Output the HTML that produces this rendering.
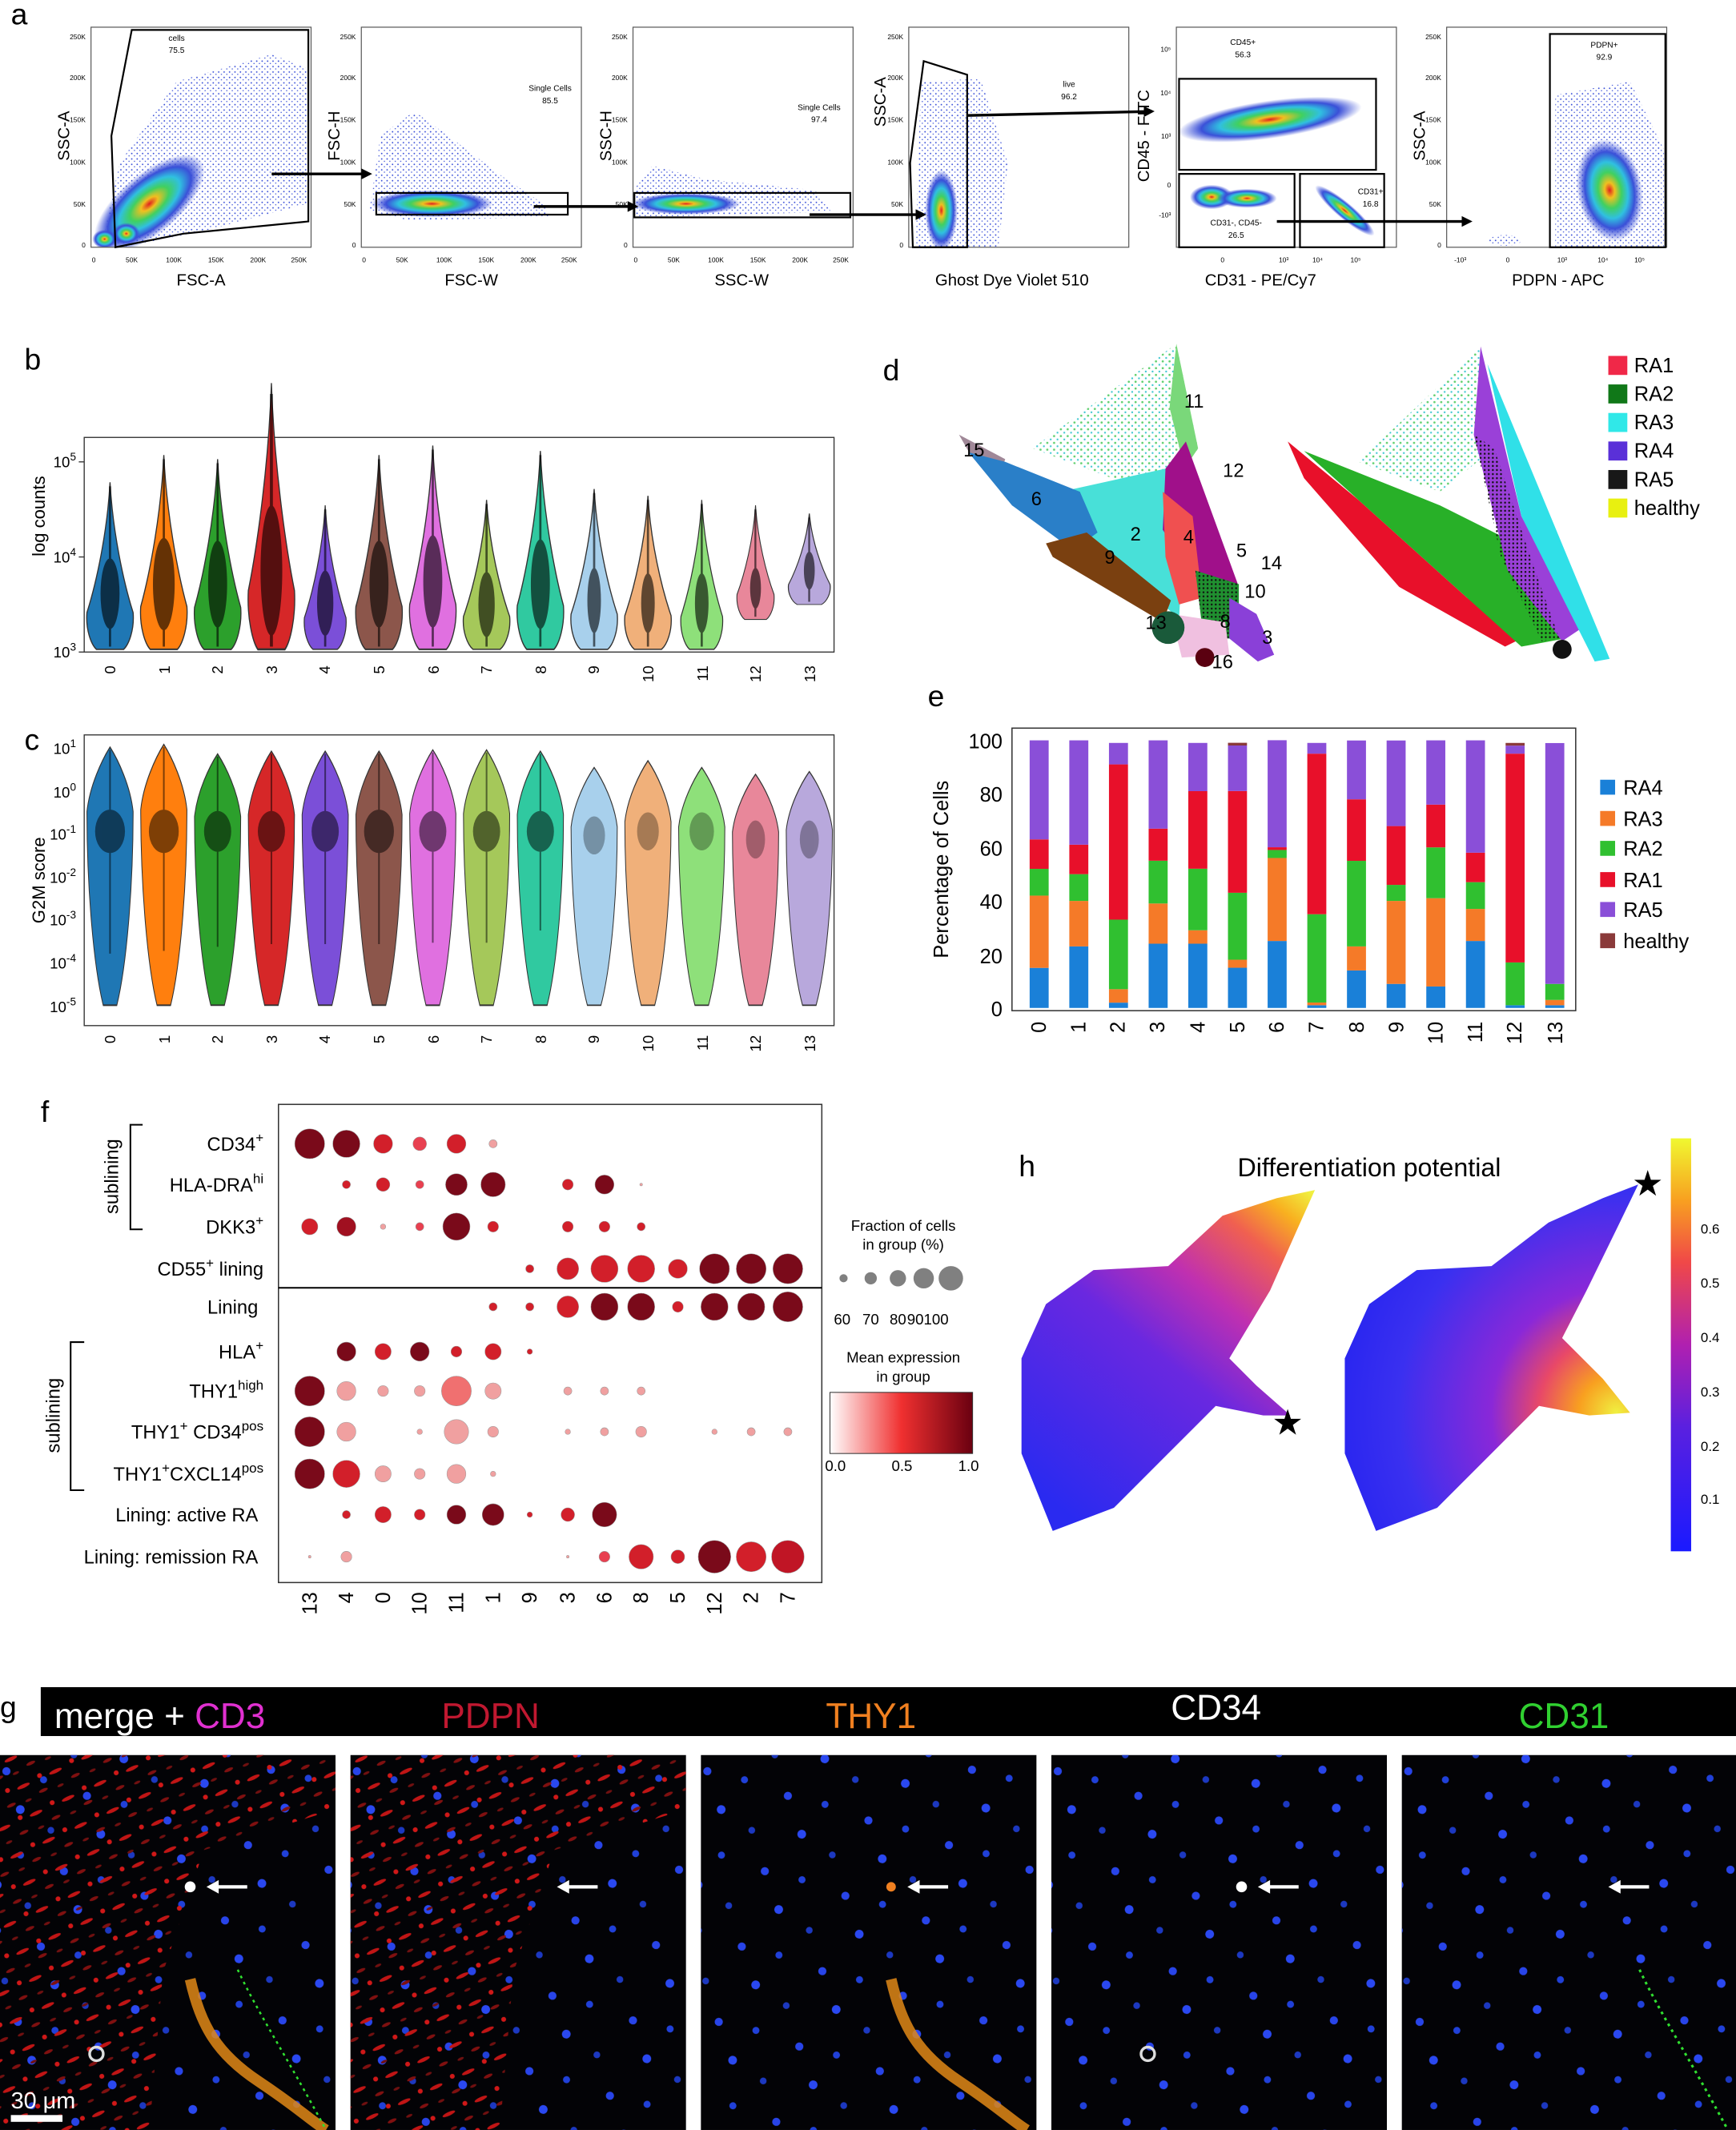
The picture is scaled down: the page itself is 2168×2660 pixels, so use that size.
<!DOCTYPE html>
<html><head><meta charset="utf-8">
<style>
html,body{margin:0;padding:0;background:#fff;}
svg{display:block;}
text{font-family:"Liberation Sans",sans-serif;}
</style></head>
<body>
<svg width="2168" height="2660" viewBox="0 0 1278 1568" xmlns="http://www.w3.org/2000/svg" xmlns:xlink="http://www.w3.org/1999/xlink">
<defs>
<marker id="ah" markerWidth="8" markerHeight="8" refX="6" refY="4" orient="auto" markerUnits="userSpaceOnUse"><path d="M0,0 L8,4 L0,8 z" fill="#000"/></marker>
<linearGradient id="cb" x1="0" y1="1" x2="0" y2="0">
<stop offset="0" stop-color="#1a1aff"/><stop offset="0.3" stop-color="#5a20e0"/><stop offset="0.5" stop-color="#b020b0"/><stop offset="0.7" stop-color="#f04848"/><stop offset="0.85" stop-color="#f8a020"/><stop offset="1" stop-color="#f0f830"/></linearGradient>
<linearGradient id="hg1" gradientUnits="userSpaceOnUse" x1="780" y1="1110" x2="968" y2="880">
<stop offset="0" stop-color="#2a2af0"/><stop offset="0.45" stop-color="#6a28e0"/><stop offset="0.65" stop-color="#c030b0"/><stop offset="0.82" stop-color="#f06050"/><stop offset="0.92" stop-color="#f8b020"/><stop offset="1" stop-color="#f0f040"/></linearGradient>
<radialGradient id="hg2" gradientUnits="userSpaceOnUse" cx="1190" cy="1040" r="230">
<stop offset="0" stop-color="#f0f040"/><stop offset="0.12" stop-color="#f8a020"/><stop offset="0.25" stop-color="#e84868"/><stop offset="0.4" stop-color="#8a28d8"/><stop offset="0.7" stop-color="#3a30f0"/><stop offset="1" stop-color="#2020f0"/></radialGradient>
<linearGradient id="fcb" x1="0" y1="0" x2="1" y2="0"><stop offset="0" stop-color="#fff"/><stop offset="0.5" stop-color="#f03030"/><stop offset="1" stop-color="#6a0010"/></linearGradient>
<radialGradient id="dens">
<stop offset="0" stop-color="#e02020"/><stop offset="0.15" stop-color="#f0c020"/><stop offset="0.35" stop-color="#40d060"/><stop offset="0.55" stop-color="#30c0e0"/><stop offset="0.75" stop-color="#3a50d8"/><stop offset="1" stop-color="#3a50d8" stop-opacity="0"/></radialGradient>
<pattern id="bd" width="4" height="4" patternUnits="userSpaceOnUse"><circle cx="1" cy="1" r="0.55" fill="#3a50d8"/><circle cx="3" cy="2.7" r="0.45" fill="#3a50d8"/></pattern>
<pattern id="kd" width="3" height="3" patternUnits="userSpaceOnUse"><circle cx="1" cy="1" r="0.7" fill="#111"/></pattern>
<pattern id="gd" width="5" height="5" patternUnits="userSpaceOnUse"><circle cx="1" cy="1" r="0.8" fill="#60d070"/><circle cx="3.5" cy="3.5" r="0.7" fill="#40c8d0"/></pattern>
<pattern id="nuc" width="62" height="58" patternUnits="userSpaceOnUse" patternTransform="rotate(17)">
<circle cx="8" cy="10" r="3" fill="#2844e8"/><circle cx="36" cy="8" r="2.6" fill="#2040d8"/><circle cx="26" cy="34" r="3.2" fill="#2a48f0"/><circle cx="52" cy="42" r="2.5" fill="#1c38c0"/></pattern>
<pattern id="rst" width="26" height="22" patternUnits="userSpaceOnUse" patternTransform="rotate(-25)">
<ellipse cx="6" cy="6" rx="5" ry="1.4" fill="#c01515"/><ellipse cx="18" cy="15" rx="3.5" ry="1.2" fill="#801010"/><ellipse cx="20" cy="4" rx="1.8" ry="1.8" fill="#d01818"/><ellipse cx="5" cy="17" rx="2.5" ry="1" fill="#701010"/></pattern>
<path id="vB" d="M0,0 C2,30 10,60 17,78 C18,88 14,97 10,100 L-10,100 C-14,97 -18,88 -17,78 C-10,60 -2,30 0,0 Z"/>
<path id="vC" d="M0,0 C6,5 15,15 17,25 C17,55 12,85 5,100 L-5,100 C-12,85 -17,55 -17,25 C-15,15 -6,5 0,0 Z"/>
<clipPath id="cp"><rect x="67" y="20" width="162" height="162"/><rect x="266" y="20" width="162" height="162"/><rect x="466" y="20" width="162" height="162"/><rect x="669" y="20" width="162" height="162"/><rect x="866" y="20" width="162" height="162"/><rect x="1065" y="20" width="162" height="162"/></clipPath>
<g id="micro">
<rect x="0" y="0" width="247" height="276" fill="#030306"/>
<rect x="0" y="0" width="247" height="276" fill="url(#nuc)"/>
</g>
<g id="arrowW"><line x1="182" y1="97" x2="160" y2="97" stroke="#fff" stroke-width="2.5"/><path d="M152,97 l9,-5 l0,10 z" fill="#fff"/></g>
<path id="redreg" d="M0,0 L247,0 L247,40 L150,70 L120,160 L110,276 L0,276 Z"/>
<path id="vessel" d="M140,165 C148,200 160,220 190,240 S230,270 240,276" stroke="#e08818" stroke-width="8" fill="none" opacity="0.85"/>
</defs>

<!-- panel labels -->
<g font-size="22" fill="#000">
<text x="8" y="18">a</text><text x="18" y="272">b</text><text x="18" y="552">c</text>
<text x="650" y="280">d</text><text x="683" y="520">e</text><text x="30" y="826">f</text>
<text x="0" y="1264">g</text><text x="750" y="866">h</text></g>

<!-- ===== panel a ===== -->
<g clip-path="url(#cp)">
<path d="M75,180 L88,120 L130,60 L200,40 L226,50 L226,150 L150,170 L90,182 Z" fill="url(#bd)"/>
<ellipse cx="110" cy="150" rx="50" ry="22" transform="rotate(-40 110 150)" fill="url(#dens)"/>
<ellipse cx="77" cy="176" rx="9" ry="7" fill="url(#dens)"/>
<ellipse cx="93" cy="172" rx="10" ry="8" fill="url(#dens)"/>
<path d="M272,155 L280,100 L305,82 L330,100 L370,130 L400,150 L405,160 L300,162 Z" fill="url(#bd)"/>
<ellipse cx="318" cy="150" rx="45" ry="10" fill="url(#dens)"/>
<path d="M468,138 L480,122 L520,132 L600,140 L612,156 L468,160 Z" fill="url(#bd)"/>
<ellipse cx="505" cy="150" rx="40" ry="8" fill="url(#dens)"/>
<path d="M678,60 L722,58 L742,120 L735,182 L674,182 Z" fill="url(#bd)"/>
<ellipse cx="693" cy="155" rx="12" ry="30" fill="url(#dens)"/>
<ellipse cx="935" cy="88" rx="68" ry="14" transform="rotate(-8 935 88)" fill="url(#dens)"/>
<ellipse cx="892" cy="145" rx="16" ry="9" fill="url(#dens)"/>
<ellipse cx="918" cy="146" rx="22" ry="7" fill="url(#dens)"/>
<ellipse cx="990" cy="155" rx="28" ry="6" transform="rotate(40 990 155)" fill="url(#dens)"/>
<path d="M1145,70 L1200,60 L1225,110 L1225,182 L1145,182 Z" fill="url(#bd)"/>
<ellipse cx="1185" cy="140" rx="24" ry="38" transform="rotate(-10 1185 140)" fill="url(#dens)"/>
<ellipse cx="1108" cy="177" rx="12" ry="4" fill="url(#bd)"/>
</g>
<g fill="none" stroke="#555" stroke-width="0.7">
<rect x="67" y="20" width="162" height="162"/><rect x="266" y="20" width="162" height="162"/>
<rect x="466" y="20" width="162" height="162"/><rect x="669" y="20" width="162" height="162"/>
<rect x="866" y="20" width="162" height="162"/><rect x="1065" y="20" width="162" height="162"/></g>
<g fill="none" stroke="#000" stroke-width="1.3">
<path d="M97,22 L227,22 L227,163 L135,172 L85,182 L82,100 Z"/>
<rect x="277" y="142" width="141" height="16"/>
<rect x="467" y="142" width="159" height="18"/>
<path d="M680,45 L712,55 L712,182 L672,182 L670,120 Z"/>
<rect x="868" y="58" width="145" height="67"/>
<rect x="868" y="128" width="85" height="54"/>
<rect x="957" y="128" width="62" height="54"/>
<rect x="1141" y="25" width="85" height="157"/>
</g>
<g stroke="#000" stroke-width="2" marker-end="url(#ah)">
<line x1="200" y1="128" x2="272" y2="128"/><line x1="393" y1="152" x2="468" y2="152"/>
<line x1="596" y1="158" x2="680" y2="158"/><line x1="712" y1="85" x2="848" y2="82"/>
<line x1="940" y1="163" x2="1082" y2="163"/></g>
<g font-size="6" fill="#000" text-anchor="middle">
<text x="130" y="30">cells</text><text x="130" y="39">75.5</text>
<text x="405" y="67">Single Cells</text><text x="405" y="76">85.5</text>
<text x="603" y="81">Single Cells</text><text x="603" y="90">97.4</text>
<text x="787" y="64">live</text><text x="787" y="73">96.2</text>
<text x="915" y="33">CD45+</text><text x="915" y="42">56.3</text>
<text x="910" y="166">CD31-, CD45-</text><text x="910" y="175">26.5</text>
<text x="1009" y="143">CD31+</text><text x="1009" y="152">16.8</text>
<text x="1181" y="35">PDPN+</text><text x="1181" y="44">92.9</text>
</g>
<g font-size="5" fill="#000" text-anchor="end">
<text x="63" y="29">250K</text><text x="63" y="59">200K</text><text x="63" y="90">150K</text><text x="63" y="121">100K</text><text x="63" y="152">50K</text><text x="63" y="182">0</text>
<text x="262" y="29">250K</text><text x="262" y="59">200K</text><text x="262" y="90">150K</text><text x="262" y="121">100K</text><text x="262" y="152">50K</text><text x="262" y="182">0</text>
<text x="462" y="29">250K</text><text x="462" y="59">200K</text><text x="462" y="90">150K</text><text x="462" y="121">100K</text><text x="462" y="152">50K</text><text x="462" y="182">0</text>
<text x="665" y="29">250K</text><text x="665" y="59">200K</text><text x="665" y="90">150K</text><text x="665" y="121">100K</text><text x="665" y="152">50K</text><text x="665" y="182">0</text>
<text x="1061" y="29">250K</text><text x="1061" y="59">200K</text><text x="1061" y="90">150K</text><text x="1061" y="121">100K</text><text x="1061" y="152">50K</text><text x="1061" y="182">0</text>
<text x="862" y="38">10⁵</text><text x="862" y="70">10⁴</text><text x="862" y="102">10³</text><text x="862" y="138">0</text><text x="862" y="160">-10³</text>
</g>
<g font-size="5" fill="#000" text-anchor="middle">
<text x="69" y="193">0</text><text x="97" y="193">50K</text><text x="128" y="193">100K</text><text x="159" y="193">150K</text><text x="190" y="193">200K</text><text x="220" y="193">250K</text>
<text x="268" y="193">0</text><text x="296" y="193">50K</text><text x="327" y="193">100K</text><text x="358" y="193">150K</text><text x="389" y="193">200K</text><text x="419" y="193">250K</text>
<text x="468" y="193">0</text><text x="496" y="193">50K</text><text x="527" y="193">100K</text><text x="558" y="193">150K</text><text x="589" y="193">200K</text><text x="619" y="193">250K</text>
<text x="900" y="193">0</text><text x="945" y="193">10³</text><text x="970" y="193">10⁴</text><text x="998" y="193">10⁵</text>
<text x="1075" y="193">-10³</text><text x="1110" y="193">0</text><text x="1150" y="193">10³</text><text x="1180" y="193">10⁴</text><text x="1207" y="193">10⁵</text>
</g>
<g font-size="12" fill="#000" text-anchor="middle">
<text x="148" y="210">FSC-A</text><text x="347" y="210">FSC-W</text><text x="546" y="210">SSC-W</text>
<text x="745" y="210">Ghost Dye Violet 510</text><text x="928" y="210">CD31 - PE/Cy7</text><text x="1147" y="210">PDPN - APC</text>
<text transform="translate(51,100) rotate(-90)">SSC-A</text>
<text transform="translate(250,100) rotate(-90)">FSC-H</text>
<text transform="translate(450,100) rotate(-90)">SSC-H</text>
<text transform="translate(652,75) rotate(-90)">SSC-A</text>
<text transform="translate(846,100) rotate(-90)">CD45 - FITC</text>
<text transform="translate(1049,100) rotate(-90)">SSC-A</text>
</g>

<!-- ===== panel b ===== -->
<rect x="62" y="322" width="552" height="158" fill="none" stroke="#333" stroke-width="0.8"/>
<g stroke="#333" stroke-width="0.8">
<use xlink:href="#vB" href="#vB" fill="#1f77b4" transform="translate(81,355) scale(1,1.23)"/>
<use xlink:href="#vB" href="#vB" fill="#ff7f0e" transform="translate(120.6,335) scale(1,1.43)"/>
<use xlink:href="#vB" href="#vB" fill="#2ca02c" transform="translate(160.2,338) scale(1,1.40)"/>
<use xlink:href="#vB" href="#vB" fill="#d62728" transform="translate(199.8,282) scale(1,1.96)"/>
<use xlink:href="#vB" href="#vB" fill="#7b4fd8" transform="translate(239.4,372) scale(0.9,1.06)"/>
<use xlink:href="#vB" href="#vB" fill="#8c564b" transform="translate(279,335) scale(1,1.43)"/>
<use xlink:href="#vB" href="#vB" fill="#e070e0" transform="translate(318.6,328) scale(1,1.50)"/>
<use xlink:href="#vB" href="#vB" fill="#a5c85a" transform="translate(358.2,368) scale(1,1.10)"/>
<use xlink:href="#vB" href="#vB" fill="#30c9a0" transform="translate(397.8,332) scale(1,1.46)"/>
<use xlink:href="#vB" href="#vB" fill="#a8d0ec" transform="translate(437.4,360) scale(1,1.18)"/>
<use xlink:href="#vB" href="#vB" fill="#f0b07a" transform="translate(477,365) scale(1,1.13)"/>
<use xlink:href="#vB" href="#vB" fill="#8ee07a" transform="translate(516.6,368) scale(0.9,1.10)"/>
<use xlink:href="#vB" href="#vB" fill="#e8879a" transform="translate(556.2,372) scale(0.8,0.84)"/>
<use xlink:href="#vB" href="#vB" fill="#b8a8dc" transform="translate(595.8,378) scale(0.9,0.67)"/>
</g>
<g fill="#000" opacity="0.6">
<ellipse cx="81" cy="437" rx="7" ry="26"/><rect x="80.2" y="358" width="1.6" height="118"/>
<ellipse cx="120.6" cy="430" rx="8" ry="34"/><rect x="119.8" y="338" width="1.6" height="138"/>
<ellipse cx="160.2" cy="430" rx="7" ry="32"/><rect x="159.4" y="341" width="1.6" height="135"/>
<ellipse cx="199.8" cy="420" rx="8" ry="48"/><rect x="198.7" y="290" width="2.2" height="186"/>
<ellipse cx="239.4" cy="444" rx="6" ry="24"/><rect x="238.6" y="375" width="1.6" height="101"/>
<ellipse cx="279" cy="430" rx="7" ry="32"/><rect x="278.2" y="338" width="1.6" height="138"/>
<ellipse cx="318.6" cy="428" rx="7" ry="34"/><rect x="317.8" y="331" width="1.6" height="145"/>
<ellipse cx="358.2" cy="445" rx="6" ry="24"/><rect x="357.4" y="371" width="1.6" height="105"/>
<ellipse cx="397.8" cy="430" rx="7" ry="33"/><rect x="397" y="335" width="1.6" height="141"/>
<ellipse cx="437.4" cy="442" rx="5" ry="24"/><rect x="436.6" y="363" width="1.6" height="113"/>
<ellipse cx="477" cy="444" rx="5" ry="22"/><rect x="476.2" y="368" width="1.6" height="108"/>
<ellipse cx="516.6" cy="444" rx="5" ry="22"/><rect x="515.8" y="371" width="1.6" height="105"/>
<ellipse cx="556.2" cy="433" rx="4" ry="15"/><rect x="555.4" y="375" width="1.4" height="79"/>
<ellipse cx="595.8" cy="420" rx="4" ry="14"/><rect x="595" y="381" width="1.4" height="62"/>
</g>
<g font-size="11" fill="#000" text-anchor="end">
<text x="56" y="344">10<tspan font-size="8" dy="-5">5</tspan></text>
<text x="56" y="414">10<tspan font-size="8" dy="-5">4</tspan></text>
<text x="56" y="484">10<tspan font-size="8" dy="-5">3</tspan></text></g>
<g stroke="#333" stroke-width="0.8"><line x1="58" y1="340" x2="62" y2="340"/><line x1="58" y1="410" x2="62" y2="410"/><line x1="58" y1="480" x2="62" y2="480"/></g>
<text transform="translate(33,380) rotate(-90)" font-size="13" text-anchor="middle">log counts</text>
<g font-size="11" fill="#000" text-anchor="end">
<text transform="translate(85,490) rotate(-90)">0</text><text transform="translate(125,490) rotate(-90)">1</text><text transform="translate(164,490) rotate(-90)">2</text><text transform="translate(204,490) rotate(-90)">3</text><text transform="translate(243,490) rotate(-90)">4</text><text transform="translate(283,490) rotate(-90)">5</text><text transform="translate(323,490) rotate(-90)">6</text><text transform="translate(362,490) rotate(-90)">7</text><text transform="translate(402,490) rotate(-90)">8</text><text transform="translate(441,490) rotate(-90)">9</text><text transform="translate(481,490) rotate(-90)">10</text><text transform="translate(521,490) rotate(-90)">11</text><text transform="translate(560,490) rotate(-90)">12</text><text transform="translate(600,490) rotate(-90)">13</text></g>

<!-- ===== panel c ===== -->
<rect x="62" y="541" width="552" height="214" fill="none" stroke="#333" stroke-width="0.8"/>
<g stroke="#333" stroke-width="0.6">
<use xlink:href="#vC" href="#vC" fill="#1f77b4" transform="translate(81,550) scale(1,1.90)"/>
<use xlink:href="#vC" href="#vC" fill="#ff7f0e" transform="translate(120.6,548) scale(1,1.92)"/>
<use xlink:href="#vC" href="#vC" fill="#2ca02c" transform="translate(160.2,555) scale(1,1.85)"/>
<use xlink:href="#vC" href="#vC" fill="#d62728" transform="translate(199.8,553) scale(1,1.87)"/>
<use xlink:href="#vC" href="#vC" fill="#7b4fd8" transform="translate(239.4,553) scale(1,1.87)"/>
<use xlink:href="#vC" href="#vC" fill="#8c564b" transform="translate(279,553) scale(1,1.87)"/>
<use xlink:href="#vC" href="#vC" fill="#e070e0" transform="translate(318.6,552) scale(1,1.88)"/>
<use xlink:href="#vC" href="#vC" fill="#a5c85a" transform="translate(358.2,552) scale(1,1.88)"/>
<use xlink:href="#vC" href="#vC" fill="#30c9a0" transform="translate(397.8,553) scale(1,1.87)"/>
<use xlink:href="#vC" href="#vC" fill="#a8d0ec" transform="translate(437.4,565) scale(1,1.75)"/>
<use xlink:href="#vC" href="#vC" fill="#f0b07a" transform="translate(477,560) scale(1,1.80)"/>
<use xlink:href="#vC" href="#vC" fill="#8ee07a" transform="translate(516.6,565) scale(1,1.75)"/>
<use xlink:href="#vC" href="#vC" fill="#e8879a" transform="translate(556.2,570) scale(1,1.70)"/>
<use xlink:href="#vC" href="#vC" fill="#b8a8dc" transform="translate(595.8,568) scale(1,1.72)"/>
</g>
<g fill="#000" opacity="0.5">
<ellipse cx="81" cy="612" rx="11" ry="16"/><rect x="80.4" y="552" width="1.2" height="150"/>
<ellipse cx="120.6" cy="612" rx="11" ry="16"/><rect x="120" y="550" width="1.2" height="150"/>
<ellipse cx="160.2" cy="612" rx="10" ry="15"/><rect x="159.6" y="557" width="1.2" height="140"/>
<ellipse cx="199.8" cy="612" rx="10" ry="15"/><rect x="199.2" y="555" width="1.2" height="140"/>
<ellipse cx="239.4" cy="612" rx="10" ry="15"/><rect x="238.8" y="555" width="1.2" height="140"/>
<ellipse cx="279" cy="612" rx="11" ry="16"/><rect x="278.4" y="555" width="1.2" height="140"/>
<ellipse cx="318.6" cy="612" rx="10" ry="15"/><rect x="318" y="554" width="1.2" height="140"/>
<ellipse cx="358.2" cy="612" rx="10" ry="15"/><rect x="357.6" y="554" width="1.2" height="140"/>
<ellipse cx="397.8" cy="612" rx="10" ry="15"/><rect x="397.2" y="555" width="1.2" height="130"/>
</g>
<g fill="#000" opacity="0.3">
<ellipse cx="437.4" cy="615" rx="8" ry="14"/><ellipse cx="477" cy="612" rx="8" ry="14"/><ellipse cx="516.6" cy="612" rx="9" ry="14"/><ellipse cx="556.2" cy="618" rx="7" ry="14"/><ellipse cx="595.8" cy="618" rx="7" ry="14"/>
</g>
<g font-size="11" fill="#000" text-anchor="end">
<text x="56" y="555">10<tspan font-size="8" dy="-5">1</tspan></text>
<text x="56" y="587">10<tspan font-size="8" dy="-5">0</tspan></text>
<text x="56" y="618">10<tspan font-size="8" dy="-5">-1</tspan></text>
<text x="56" y="650">10<tspan font-size="8" dy="-5">-2</tspan></text>
<text x="56" y="681">10<tspan font-size="8" dy="-5">-3</tspan></text>
<text x="56" y="713">10<tspan font-size="8" dy="-5">-4</tspan></text>
<text x="56" y="745">10<tspan font-size="8" dy="-5">-5</tspan></text></g>
<text transform="translate(33,648) rotate(-90)" font-size="13" text-anchor="middle">G2M score</text>
<g font-size="11" fill="#000" text-anchor="end">
<text transform="translate(85,762) rotate(-90)">0</text><text transform="translate(125,762) rotate(-90)">1</text><text transform="translate(164,762) rotate(-90)">2</text><text transform="translate(204,762) rotate(-90)">3</text><text transform="translate(243,762) rotate(-90)">4</text><text transform="translate(283,762) rotate(-90)">5</text><text transform="translate(323,762) rotate(-90)">6</text><text transform="translate(362,762) rotate(-90)">7</text><text transform="translate(402,762) rotate(-90)">8</text><text transform="translate(441,762) rotate(-90)">9</text><text transform="translate(481,762) rotate(-90)">10</text><text transform="translate(521,762) rotate(-90)">11</text><text transform="translate(560,762) rotate(-90)">12</text><text transform="translate(600,762) rotate(-90)">13</text></g>

<!-- ===== panel d ===== -->
<g>
<polygon points="760,330 866,253 882,330 870,350 840,360 800,345" fill="url(#gd)"/>
<polygon points="866,253 882,330 872,345 861,300" fill="#7ad87a"/>
<polygon points="790,360 858,345 870,420 868,455 800,400" fill="#48e0d8"/>
<polygon points="858,345 873,325 912,432 882,430 856,390" fill="#a0108a"/>
<polygon points="856,362 878,380 885,440 868,445 858,410" fill="#f05050"/>
<polygon points="706,320 740,338 736,350 714,334" fill="#a08898"/>
<polygon points="713,333 740,340 795,362 808,392 790,405 745,372" fill="#2a7fc8"/>
<polygon points="770,400 800,392 862,442 856,458 775,410" fill="#7a4010"/>
<polygon points="880,420 912,430 912,470 886,470" fill="#209030"/>
<polygon points="880,420 912,430 912,470 886,470" fill="url(#kd)"/>
<polygon points="862,452 902,458 905,482 870,484" fill="#f0c0e0"/>
<polygon points="905,440 925,452 938,482 926,487 905,470" fill="#8a40d8"/>
<circle cx="860" cy="462" r="12" fill="#1a5a3a"/><circle cx="887" cy="484" r="7" fill="#5a0010"/>
<polygon points="948,325 1000,368 1080,440 1120,470 1108,476 1030,432 960,352" fill="#e8102a"/>
<polygon points="960,332 1060,372 1120,402 1152,470 1120,476 1080,440 1000,368" fill="#28b028"/>
<polygon points="1000,340 1090,255 1100,330 1060,362" fill="url(#gd)"/>
<polygon points="1090,255 1120,380 1165,462 1150,472 1110,420 1085,320" fill="#9a40d8"/>
<polygon points="1095,268 1185,485 1174,487 1120,380" fill="#30e0e8"/>
<polygon points="1085,320 1100,330 1130,420 1148,470 1135,472 1105,410" fill="url(#kd)"/>
<circle cx="1150" cy="478" r="7" fill="#111"/>
</g>
<g font-size="14" fill="#000" text-anchor="middle">
<text x="879" y="300">11</text><text x="717" y="336">15</text><text x="908" y="351">12</text>
<text x="763" y="372">6</text><text x="836" y="398">2</text><text x="875" y="400">4</text>
<text x="914" y="410">5</text><text x="936" y="419">14</text><text x="817" y="415">9</text>
<text x="924" y="440">10</text><text x="902" y="462">8</text><text x="851" y="463">13</text>
<text x="933" y="474">3</text><text x="900" y="492">16</text></g>
<g font-size="15" fill="#000">
<rect x="1184" y="262" width="14" height="14" fill="#f02848"/><text x="1203" y="274">RA1</text>
<rect x="1184" y="283" width="14" height="14" fill="#107818"/><text x="1203" y="295">RA2</text>
<rect x="1184" y="304" width="14" height="14" fill="#30e8e8"/><text x="1203" y="316">RA3</text>
<rect x="1184" y="325" width="14" height="14" fill="#5a30d8"/><text x="1203" y="337">RA4</text>
<rect x="1184" y="346" width="14" height="14" fill="#181818"/><text x="1203" y="358">RA5</text>
<rect x="1184" y="367" width="14" height="14" fill="#e8f010"/><text x="1203" y="379">healthy</text></g>

<!-- ===== panel e ===== -->
<g>
<rect x="758" y="712.5" width="14" height="29.5" fill="#1a80d8"/><rect x="758" y="659.3" width="14" height="53.2" fill="#f57a28"/><rect x="758" y="639.6" width="14" height="19.7" fill="#30c030"/><rect x="758" y="617.9" width="14" height="21.7" fill="#e8102a"/><rect x="758" y="545" width="14" height="72.9" fill="#8a4fd8"/>
<rect x="787.2" y="696.7" width="14" height="45.3" fill="#1a80d8"/><rect x="787.2" y="663.2" width="14" height="33.5" fill="#f57a28"/><rect x="787.2" y="643.5" width="14" height="19.7" fill="#30c030"/><rect x="787.2" y="621.8" width="14" height="21.7" fill="#e8102a"/><rect x="787.2" y="545" width="14" height="76.8" fill="#8a4fd8"/>
<rect x="816.4" y="738.1" width="14" height="3.9" fill="#1a80d8"/><rect x="816.4" y="728.2" width="14" height="9.9" fill="#f57a28"/><rect x="816.4" y="677" width="14" height="51.2" fill="#30c030"/><rect x="816.4" y="562.7" width="14" height="114.3" fill="#e8102a"/><rect x="816.4" y="546.9" width="14" height="15.8" fill="#8a4fd8"/>
<rect x="845.6" y="694.7" width="14" height="47.3" fill="#1a80d8"/><rect x="845.6" y="665.1" width="14" height="29.6" fill="#f57a28"/><rect x="845.6" y="633.6" width="14" height="31.5" fill="#30c030"/><rect x="845.6" y="610" width="14" height="23.6" fill="#e8102a"/><rect x="845.6" y="545" width="14" height="65" fill="#8a4fd8"/>
<rect x="874.8" y="694.7" width="14" height="47.3" fill="#1a80d8"/><rect x="874.8" y="684.8" width="14" height="9.9" fill="#f57a28"/><rect x="874.8" y="639.5" width="14" height="45.3" fill="#30c030"/><rect x="874.8" y="582.4" width="14" height="57.1" fill="#e8102a"/><rect x="874.8" y="546.9" width="14" height="35.5" fill="#8a4fd8"/>
<rect x="904" y="712.4" width="14" height="29.6" fill="#1a80d8"/><rect x="904" y="706.5" width="14" height="5.9" fill="#f57a28"/><rect x="904" y="657.2" width="14" height="49.3" fill="#30c030"/><rect x="904" y="582.3" width="14" height="74.9" fill="#e8102a"/><rect x="904" y="548.8" width="14" height="33.5" fill="#8a4fd8"/><rect x="904" y="546.8" width="14" height="2" fill="#8a3a3a"/>
<rect x="933.2" y="692.7" width="14" height="49.3" fill="#1a80d8"/><rect x="933.2" y="631.6" width="14" height="61.1" fill="#f57a28"/><rect x="933.2" y="625.7" width="14" height="5.9" fill="#30c030"/><rect x="933.2" y="623.7" width="14" height="2" fill="#e8102a"/><rect x="933.2" y="544.9" width="14" height="78.8" fill="#8a4fd8"/>
<rect x="962.4" y="740" width="14" height="2" fill="#1a80d8"/><rect x="962.4" y="738" width="14" height="2" fill="#f57a28"/><rect x="962.4" y="673" width="14" height="65" fill="#30c030"/><rect x="962.4" y="554.8" width="14" height="118.2" fill="#e8102a"/><rect x="962.4" y="546.9" width="14" height="7.9" fill="#8a4fd8"/>
<rect x="991.6" y="714.4" width="14" height="27.6" fill="#1a80d8"/><rect x="991.6" y="696.7" width="14" height="17.7" fill="#f57a28"/><rect x="991.6" y="633.7" width="14" height="63" fill="#30c030"/><rect x="991.6" y="588.4" width="14" height="45.3" fill="#e8102a"/><rect x="991.6" y="545.1" width="14" height="43.3" fill="#8a4fd8"/>
<rect x="1020.8" y="724.3" width="14" height="17.7" fill="#1a80d8"/><rect x="1020.8" y="663.2" width="14" height="61.1" fill="#f57a28"/><rect x="1020.8" y="651.4" width="14" height="11.8" fill="#30c030"/><rect x="1020.8" y="608.1" width="14" height="43.3" fill="#e8102a"/><rect x="1020.8" y="545.1" width="14" height="63" fill="#8a4fd8"/>
<rect x="1050" y="726.2" width="14" height="15.8" fill="#1a80d8"/><rect x="1050" y="661.2" width="14" height="65" fill="#f57a28"/><rect x="1050" y="623.8" width="14" height="37.4" fill="#30c030"/><rect x="1050" y="592.3" width="14" height="31.5" fill="#e8102a"/><rect x="1050" y="545" width="14" height="47.3" fill="#8a4fd8"/>
<rect x="1079.2" y="692.7" width="14" height="49.3" fill="#1a80d8"/><rect x="1079.2" y="669.1" width="14" height="23.6" fill="#f57a28"/><rect x="1079.2" y="649.4" width="14" height="19.7" fill="#30c030"/><rect x="1079.2" y="627.7" width="14" height="21.7" fill="#e8102a"/><rect x="1079.2" y="545" width="14" height="82.7" fill="#8a4fd8"/>
<rect x="1108.4" y="740" width="14" height="2" fill="#1a80d8"/><rect x="1108.4" y="708.5" width="14" height="31.5" fill="#30c030"/><rect x="1108.4" y="554.8" width="14" height="153.7" fill="#e8102a"/><rect x="1108.4" y="548.9" width="14" height="5.9" fill="#8a4fd8"/><rect x="1108.4" y="546.9" width="14" height="2" fill="#8a3a3a"/>
<rect x="1137.6" y="740" width="14" height="2" fill="#1a80d8"/><rect x="1137.6" y="736.1" width="14" height="3.9" fill="#f57a28"/><rect x="1137.6" y="724.3" width="14" height="11.8" fill="#30c030"/><rect x="1137.6" y="547" width="14" height="177.3" fill="#8a4fd8"/>
</g>
<rect x="745" y="536" width="415" height="208" fill="none" stroke="#333" stroke-width="0.9"/>
<g font-size="15" fill="#000" text-anchor="end">
<text x="738" y="748">0</text><text x="738" y="709">20</text><text x="738" y="669">40</text><text x="738" y="630">60</text><text x="738" y="590">80</text><text x="738" y="551">100</text></g>
<text transform="translate(698,640) rotate(-90)" font-size="15" text-anchor="middle">Percentage of Cells</text>
<g font-size="15" fill="#000" text-anchor="end">
<text transform="translate(770,752) rotate(-90)">0</text><text transform="translate(799,752) rotate(-90)">1</text><text transform="translate(828,752) rotate(-90)">2</text><text transform="translate(857,752) rotate(-90)">3</text><text transform="translate(887,752) rotate(-90)">4</text><text transform="translate(916,752) rotate(-90)">5</text><text transform="translate(945,752) rotate(-90)">6</text><text transform="translate(974,752) rotate(-90)">7</text><text transform="translate(1004,752) rotate(-90)">8</text><text transform="translate(1033,752) rotate(-90)">9</text><text transform="translate(1062,752) rotate(-90)">10</text><text transform="translate(1091,752) rotate(-90)">11</text><text transform="translate(1120,752) rotate(-90)">12</text><text transform="translate(1150,752) rotate(-90)">13</text></g>
<g font-size="15" fill="#000">
<rect x="1178" y="574" width="11" height="11" fill="#1a80d8"/><text x="1195" y="585">RA4</text>
<rect x="1178" y="597" width="11" height="11" fill="#f57a28"/><text x="1195" y="608">RA3</text>
<rect x="1178" y="619" width="11" height="11" fill="#30c030"/><text x="1195" y="630">RA2</text>
<rect x="1178" y="642" width="11" height="11" fill="#e8102a"/><text x="1195" y="653">RA1</text>
<rect x="1178" y="664" width="11" height="11" fill="#8a4fd8"/><text x="1195" y="675">RA5</text>
<rect x="1178" y="687" width="11" height="11" fill="#8a3a3a"/><text x="1195" y="698">healthy</text></g>

<!-- ===== panel f ===== -->
<rect x="205" y="813" width="400" height="352" fill="none" stroke="#333" stroke-width="0.9"/>
<line x1="205" y1="948" x2="605" y2="948" stroke="#000" stroke-width="1.2"/>
<g stroke="#999" stroke-width="0.3">
<circle cx="228" cy="842" r="11" fill="#7a0a1a"/><circle cx="255" cy="842" r="10" fill="#7a0a1a"/><circle cx="282" cy="842" r="7" fill="#d21f2a"/><circle cx="309" cy="842" r="5" fill="#e84050"/><circle cx="336" cy="842" r="7" fill="#d21f2a"/><circle cx="363" cy="842" r="3" fill="#f0a0a0"/>
<circle cx="255" cy="872" r="3" fill="#d21f2a"/><circle cx="282" cy="872" r="5" fill="#d21f2a"/><circle cx="309" cy="872" r="3" fill="#e84050"/><circle cx="336" cy="872" r="8" fill="#7a0a1a"/><circle cx="363" cy="872" r="9" fill="#7a0a1a"/><circle cx="418" cy="872" r="4" fill="#d21f2a"/><circle cx="445" cy="872" r="7" fill="#7a0a1a"/><circle cx="472" cy="872" r="1" fill="#f0a0a0"/>
<circle cx="228" cy="903" r="6" fill="#d21f2a"/><circle cx="255" cy="903" r="7" fill="#a01020"/><circle cx="282" cy="903" r="2" fill="#f0a0a0"/><circle cx="309" cy="903" r="3" fill="#e84050"/><circle cx="336" cy="903" r="10" fill="#7a0a1a"/><circle cx="363" cy="903" r="4" fill="#d21f2a"/><circle cx="418" cy="903" r="4" fill="#d21f2a"/><circle cx="445" cy="903" r="4" fill="#d21f2a"/><circle cx="472" cy="903" r="3" fill="#d21f2a"/>
<circle cx="390" cy="934" r="3" fill="#d21f2a"/><circle cx="418" cy="934" r="8" fill="#d21f2a"/><circle cx="445" cy="934" r="10" fill="#d21f2a"/><circle cx="472" cy="934" r="10" fill="#d21f2a"/><circle cx="499" cy="934" r="7" fill="#d21f2a"/><circle cx="526" cy="934" r="11" fill="#7a0a1a"/><circle cx="553" cy="934" r="11" fill="#7a0a1a"/><circle cx="580" cy="934" r="11" fill="#7a0a1a"/>
<circle cx="363" cy="962" r="3" fill="#d21f2a"/><circle cx="390" cy="962" r="3" fill="#d21f2a"/><circle cx="418" cy="962" r="8" fill="#d21f2a"/><circle cx="445" cy="962" r="10" fill="#7a0a1a"/><circle cx="472" cy="962" r="10" fill="#7a0a1a"/><circle cx="499" cy="962" r="4" fill="#d21f2a"/><circle cx="526" cy="962" r="10" fill="#7a0a1a"/><circle cx="553" cy="962" r="10" fill="#7a0a1a"/><circle cx="580" cy="962" r="11" fill="#7a0a1a"/>
<circle cx="255" cy="995" r="7" fill="#7a0a1a"/><circle cx="282" cy="995" r="6" fill="#d21f2a"/><circle cx="309" cy="995" r="7" fill="#7a0a1a"/><circle cx="336" cy="995" r="4" fill="#d21f2a"/><circle cx="363" cy="995" r="6" fill="#d21f2a"/><circle cx="390" cy="995" r="2" fill="#d21f2a"/>
<circle cx="228" cy="1024" r="11" fill="#7a0a1a"/><circle cx="255" cy="1024" r="7" fill="#f0a0a0"/><circle cx="282" cy="1024" r="4" fill="#f0a0a0"/><circle cx="309" cy="1024" r="4" fill="#f0a0a0"/><circle cx="336" cy="1024" r="11" fill="#f07070"/><circle cx="363" cy="1024" r="6" fill="#f0a0a0"/><circle cx="418" cy="1024" r="3" fill="#f0a0a0"/><circle cx="445" cy="1024" r="3" fill="#f0a0a0"/><circle cx="472" cy="1024" r="3" fill="#f0a0a0"/>
<circle cx="228" cy="1054" r="11" fill="#7a0a1a"/><circle cx="255" cy="1054" r="7" fill="#f0a0a0"/><circle cx="309" cy="1054" r="2" fill="#f0a0a0"/><circle cx="336" cy="1054" r="9" fill="#f0a0a0"/><circle cx="363" cy="1054" r="4" fill="#f0a0a0"/><circle cx="418" cy="1054" r="2" fill="#f0a0a0"/><circle cx="445" cy="1054" r="3" fill="#f0a0a0"/><circle cx="472" cy="1054" r="4" fill="#f0a0a0"/><circle cx="526" cy="1054" r="2" fill="#f0a0a0"/><circle cx="553" cy="1054" r="3" fill="#f0a0a0"/><circle cx="580" cy="1054" r="3" fill="#f0a0a0"/>
<circle cx="228" cy="1085" r="11" fill="#7a0a1a"/><circle cx="255" cy="1085" r="10" fill="#d21f2a"/><circle cx="282" cy="1085" r="6" fill="#f0a0a0"/><circle cx="309" cy="1085" r="4" fill="#f0a0a0"/><circle cx="336" cy="1085" r="7" fill="#f0a0a0"/><circle cx="363" cy="1085" r="2" fill="#f0a0a0"/>
<circle cx="255" cy="1115" r="3" fill="#d21f2a"/><circle cx="282" cy="1115" r="6" fill="#d21f2a"/><circle cx="309" cy="1115" r="4" fill="#d21f2a"/><circle cx="336" cy="1115" r="7" fill="#7a0a1a"/><circle cx="363" cy="1115" r="8" fill="#7a0a1a"/><circle cx="390" cy="1115" r="2" fill="#d21f2a"/><circle cx="418" cy="1115" r="5" fill="#d21f2a"/><circle cx="445" cy="1115" r="9" fill="#7a0a1a"/>
<circle cx="228" cy="1146" r="1" fill="#f0a0a0"/><circle cx="255" cy="1146" r="4" fill="#f0a0a0"/><circle cx="418" cy="1146" r="1" fill="#f0a0a0"/><circle cx="445" cy="1146" r="4" fill="#e84050"/><circle cx="472" cy="1146" r="9" fill="#d21f2a"/><circle cx="499" cy="1146" r="5" fill="#d21f2a"/><circle cx="526" cy="1146" r="12" fill="#7a0a1a"/><circle cx="553" cy="1146" r="11" fill="#d21f2a"/><circle cx="580" cy="1146" r="12" fill="#c01525"/>
</g>
<g font-size="14" fill="#000" text-anchor="end">
<text x="194" y="847">CD34<tspan font-size="10" dy="-6">+</tspan></text>
<text x="194" y="877">HLA-DRA<tspan font-size="10" dy="-6">hi</tspan></text>
<text x="194" y="908">DKK3<tspan font-size="10" dy="-6">+</tspan></text>
<text x="194" y="939">CD55<tspan font-size="10" dy="-6">+</tspan><tspan dy="6"> lining</tspan></text>
<text x="190" y="967">Lining</text>
<text x="194" y="1000">HLA<tspan font-size="10" dy="-6">+</tspan></text>
<text x="194" y="1029">THY1<tspan font-size="10" dy="-6">high</tspan></text>
<text x="194" y="1059">THY1<tspan font-size="10" dy="-6">+</tspan><tspan dy="6"> CD34</tspan><tspan font-size="10" dy="-6">pos</tspan></text>
<text x="194" y="1090">THY1<tspan font-size="10" dy="-6">+</tspan><tspan dy="6">CXCL14</tspan><tspan font-size="10" dy="-6">pos</tspan></text>
<text x="190" y="1120">Lining: active RA</text>
<text x="190" y="1151">Lining: remission RA</text></g>
<g fill="none" stroke="#000" stroke-width="1.2">
<path d="M105,828 L96,828 L96,905 L105,905"/><path d="M62,988 L52,988 L52,1097 L62,1097"/></g>
<g font-size="14" text-anchor="middle">
<text transform="translate(87,866) rotate(-90)">sublining</text>
<text transform="translate(44,1042) rotate(-90)">sublining</text></g>
<g font-size="15" fill="#000" text-anchor="end">
<text transform="translate(233,1172) rotate(-90)">13</text><text transform="translate(260,1172) rotate(-90)">4</text><text transform="translate(287,1172) rotate(-90)">0</text><text transform="translate(314,1172) rotate(-90)">10</text><text transform="translate(341,1172) rotate(-90)">11</text><text transform="translate(368,1172) rotate(-90)">1</text><text transform="translate(395,1172) rotate(-90)">9</text><text transform="translate(423,1172) rotate(-90)">3</text><text transform="translate(450,1172) rotate(-90)">6</text><text transform="translate(477,1172) rotate(-90)">8</text><text transform="translate(504,1172) rotate(-90)">5</text><text transform="translate(531,1172) rotate(-90)">12</text><text transform="translate(558,1172) rotate(-90)">2</text><text transform="translate(585,1172) rotate(-90)">7</text></g>
<g font-size="11" fill="#000" text-anchor="middle">
<text x="665" y="906">Fraction of cells</text><text x="665" y="920">in group (%)</text>
<text x="620" y="975">60</text><text x="641" y="975">70</text><text x="661" y="975">80</text><text x="683" y="975">90100</text>
<text x="665" y="1003">Mean expression</text><text x="665" y="1017">in group</text>
<text x="615" y="1083">0.0</text><text x="664" y="1083">0.5</text><text x="713" y="1083">1.0</text></g>
<g fill="#808080"><circle cx="621" cy="941" r="3"/><circle cx="641" cy="941" r="4.5"/><circle cx="661" cy="941" r="6"/><circle cx="680" cy="941" r="7.5"/><circle cx="700" cy="941" r="9"/></g>
<rect x="611" y="1025" width="105" height="45" fill="url(#fcb)" stroke="#333" stroke-width="0.6"/>

<!-- ===== panel h ===== -->
<text x="1008" y="866" font-size="19" text-anchor="middle">Differentiation potential</text>
<path d="M775,1127 L752,1070 L752,1000 L770,960 L805,935 L860,932 L900,895 L940,882 L968,876 L955,905 L935,950 L905,1000 L925,1020 L950,1042 L930,1042 L895,1035 L860,1070 L820,1110 Z" fill="url(#hg1)"/>
<path d="M1013,1127 L990,1070 L990,1000 L1008,960 L1043,935 L1098,932 L1140,900 L1180,882 L1206,872 L1190,905 L1168,950 L1150,985 L1180,1015 L1200,1040 L1170,1042 L1133,1035 L1098,1070 L1058,1110 Z" fill="url(#hg2)"/>
<text x="948" y="1056" font-size="26" text-anchor="middle">★</text>
<text x="1213" y="880" font-size="26" text-anchor="middle">★</text>
<rect x="1230" y="838" width="15" height="304" fill="url(#cb)"/>
<g font-size="10" fill="#000">
<text x="1252" y="908">0.6</text><text x="1252" y="948">0.5</text><text x="1252" y="988">0.4</text><text x="1252" y="1028">0.3</text><text x="1252" y="1068">0.2</text><text x="1252" y="1107">0.1</text></g>

<!-- ===== panel g ===== -->
<rect x="30" y="1242" width="1248" height="36" fill="#000"/>
<g font-size="26">
<text x="40" y="1272" fill="#fff">merge + <tspan fill="#e030d0">CD3</tspan></text>
<text x="325" y="1272" fill="#c01830">PDPN</text>
<text x="608" y="1272" fill="#f08020">THY1</text>
<text x="862" y="1266" fill="#fff">CD34</text>
<text x="1118" y="1272" fill="#30d030">CD31</text></g>

<g transform="translate(0,1292)">
<use xlink:href="#micro" href="#micro"/>
<use xlink:href="#redreg" href="#redreg" fill="url(#rst)"/>
<use xlink:href="#vessel" href="#vessel"/>
<path d="M175,158 C190,190 210,220 240,276" stroke="#30e030" stroke-width="1.5" stroke-dasharray="2 3" fill="none"/>
<circle cx="71" cy="220" r="5" fill="none" stroke="#ddd" stroke-width="2"/><circle cx="140" cy="97" r="4" fill="#fff"/>
<use xlink:href="#arrowW" href="#arrowW"/>
</g>
<g transform="translate(258,1292)">
<use xlink:href="#micro" href="#micro"/>
<use xlink:href="#redreg" href="#redreg" fill="url(#rst)"/>
<use xlink:href="#arrowW" href="#arrowW"/>
</g>
<g transform="translate(516,1292)">
<use xlink:href="#micro" href="#micro"/>
<use xlink:href="#vessel" href="#vessel"/>
<circle cx="140" cy="97" r="3.5" fill="#f08020"/>
<use xlink:href="#arrowW" href="#arrowW"/>
</g>
<g transform="translate(774,1292)">
<use xlink:href="#micro" href="#micro"/>
<circle cx="71" cy="220" r="5" fill="none" stroke="#ddd" stroke-width="2"/><circle cx="140" cy="97" r="4" fill="#fff"/>
<use xlink:href="#arrowW" href="#arrowW"/>
</g>
<g transform="translate(1032,1292)">
<use xlink:href="#micro" href="#micro"/>
<path d="M175,158 C190,190 210,220 240,276" stroke="#30e030" stroke-width="1.8" stroke-dasharray="2 3" fill="none"/>
<use xlink:href="#arrowW" href="#arrowW"/>
</g>
<text x="8" y="1552" font-size="17" fill="#fff">30 μm</text>
<rect x="8" y="1557" width="38" height="5" fill="#fff"/>
</svg>
</body></html>
